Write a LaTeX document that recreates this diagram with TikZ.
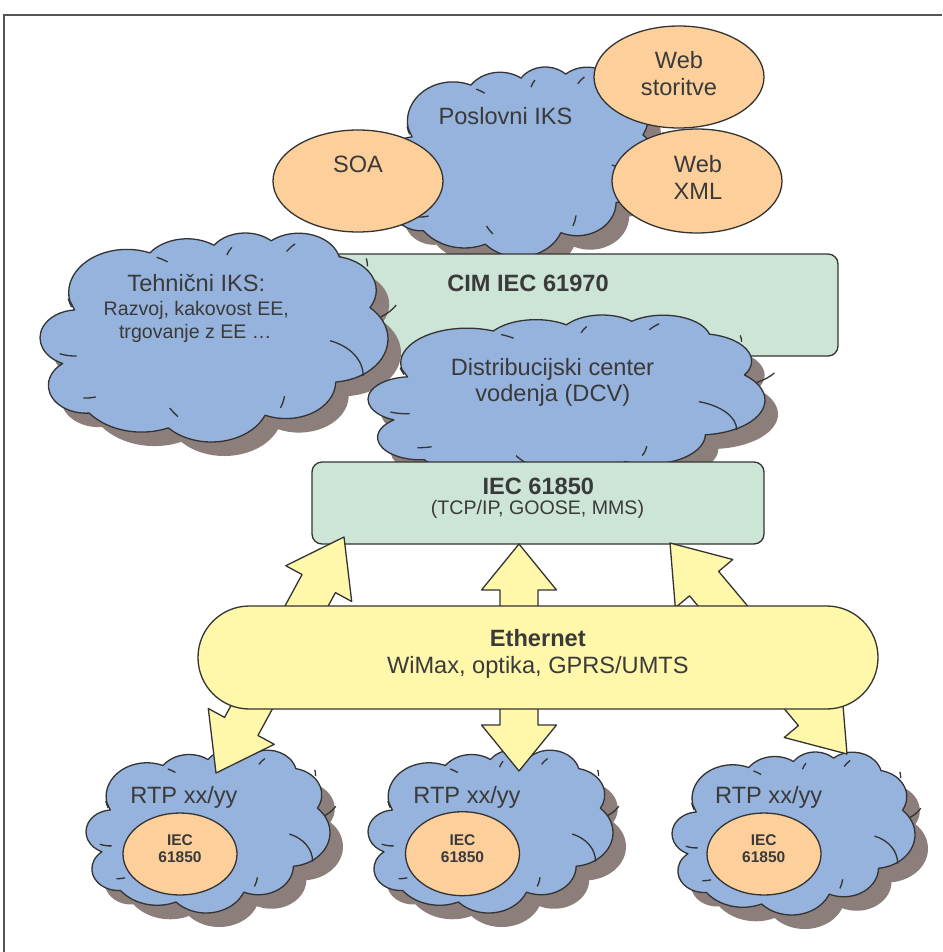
\documentclass[tikz,border=0pt]{standalone}
\usepackage{fontspec}
\setmainfont{Liberation Sans}
\usetikzlibrary{calc,shapes.geometric}

\definecolor{cloudblue}{RGB}{149,179,220}
\definecolor{shadowgray}{RGB}{140,127,123}
\definecolor{peach}{RGB}{253,207,155}
\definecolor{mint}{RGB}{204,229,214}
\definecolor{lemon}{RGB}{255,247,170}
\definecolor{ink}{RGB}{51,51,51}
\definecolor{textink}{RGB}{58,58,58}
\definecolor{framegray}{RGB}{85,85,85}

\tikzset{
  outline/.style={draw=ink, line width=1.3pt, line join=round},
  bubble/.style={ellipse, outline, fill=peach, inner sep=0pt},
  panel/.style={rectangle, outline, fill=mint, rounded corners=10pt, inner sep=0pt},
  blockarrow/.style={outline, fill=lemon},
  txt/.style={inner sep=0pt, anchor=base, text=textink, font=\fontsize{23.6}{28}\selectfont},
  subtxt/.style={txt, font=\fontsize{19.6}{24}\selectfont},
  tinytxt/.style={txt, font=\fontsize{15.5}{18}\selectfont\bfseries},
}

% Outline of a puffy cloud in a 432 x 432 unit box (y pointing down,
% angles negated because the arc radii are taken on the canvas axes)
\newcommand{\cloudbody}[1]{%
  \path[#1] (39.00,143.70)
    arc[start angle=190.4875, delta angle=-123.7805, x radius=67.53pt, y radius=91.90pt]
    arc[start angle=144.1024, delta angle=-89.9452,  x radius=53.33pt, y radius=72.67pt]
    arc[start angle=145.8079, delta angle=-99.7230,  x radius=43.65pt, y radius=59.45pt]
    arc[start angle=130.9861, delta angle=-117.2417, x radius=48.57pt, y radius=65.95pt]
    arc[start angle=78.7089,  delta angle=-109.0269, x radius=53.33pt, y radius=72.73pt]
    arc[start angle=46.2673,  delta angle=-130.2690, x radius=67.75pt, y radius=92.20pt]
    arc[start angle=-0.6250,  delta angle=-114.0333, x radius=57.85pt, y radius=78.67pt]
    arc[start angle=-22.4516, delta angle=-115.1726, x radius=67.52pt, y radius=92.15pt]
    arc[start angle=-66.2426, delta angle=-75.7110,  x radius=77.20pt, y radius=105.43pt]
    arc[start angle=274.9421, delta angle=-146.7356, x radius=43.60pt, y radius=59.18pt]
    arc[start angle=246.8285, delta angle=-152.5189, x radius=43.45pt, y radius=59.45pt]
    -- cycle;}

% Short inner strokes that separate the puffs
\newcommand{\cloudfolds}[1]{%
  \path[#1]
    (46.93,261.77) arc[start angle=-86.7420, delta angle=-26.4295, x radius=43.45pt, y radius=59.45pt]
    (69.28,348.99) arc[start angle=-73.6105, delta angle=-19.1381, x radius=43.60pt, y radius=59.18pt]
    (164.78,390.90) arc[start angle=-137.6242, delta angle=-14.0811, x radius=67.52pt, y radius=92.15pt]
    (288.27,347.51) arc[start angle=-6.4533, delta angle=-15.9984, x radius=67.52pt, y radius=92.15pt]
    (341.29,229.54) arc[start angle=70.2924, delta angle=-70.9174, x radius=57.85pt, y radius=78.67pt]
    (417.98,153.54) arc[start angle=-30.3180, delta angle=-27.7515, x radius=53.33pt, y radius=72.73pt]
    (383.24,54.26) arc[start angle=13.7443, delta angle=-14.8640, x radius=48.57pt, y radius=65.95pt]
    (290.78,39.52) arc[start angle=149.1815, delta angle=-18.1954, x radius=48.57pt, y radius=65.95pt]
    (221.41,47.20) arc[start angle=163.4943, delta angle=-17.6864, x radius=43.65pt, y radius=59.45pt]
    (140.00,51.92) arc[start angle=66.7070, delta angle=-12.3194, x radius=67.53pt, y radius=91.90pt]
    (41.27,157.89) arc[start angle=-157.6544, delta angle=-11.8582, x radius=67.53pt, y radius=91.90pt];}

% Cloud with drop shadow: left, top, width, height (in px)
\newcommand{\puffcloud}[4]{%
  \pgfmathsetmacro\cloudsx{#3/403.91}%
  \pgfmathsetmacro\cloudsy{#4/444.67}%
  \begin{scope}[shift={(#1+13,#2+14)}, xscale=\cloudsx, yscale=\cloudsy, shift={(-4.55,-0.22)}]
    \cloudbody{fill=shadowgray}
  \end{scope}
  \begin{scope}[shift={(#1,#2)}, xscale=\cloudsx, yscale=\cloudsy, shift={(-4.55,-0.22)}]
    \cloudbody{fill=cloudblue, outline}
    \cloudfolds{outline}
  \end{scope}}

% Double-headed block arrow between two tips; #3 = head length
\newcommand{\twowayarrow}[3]{%
  \path[blockarrow] (#1)
    -- ($(#1)!#3!(#2)!37.5pt!90:(#2)$)
    -- ($(#1)!#3!(#2)!19pt!90:(#2)$)
    -- ($(#2)!#3!(#1)!19pt!-90:(#1)$)
    -- ($(#2)!#3!(#1)!37.5pt!-90:(#1)$)
    -- (#2)
    -- ($(#2)!#3!(#1)!37.5pt!90:(#1)$)
    -- ($(#2)!#3!(#1)!19pt!90:(#1)$)
    -- ($(#1)!#3!(#2)!19pt!-90:(#2)$)
    -- ($(#1)!#3!(#2)!37.5pt!-90:(#2)$)
    -- cycle;}

\begin{document}
\begin{tikzpicture}[x=1pt, y=-1pt]
  \useasboundingbox (0,0) rectangle (942,952);
  \fill[white] (0,0) rectangle (942,952);

  % page frame
  \draw[framegray, line width=1.5pt] (4,952) -- (4,15) -- (942,15);

  % business IT layer
  \puffcloud{385}{67}{272}{190}
  \node[txt] (poslovni) at (505.5,125) {Poslovni IKS};
  \node[bubble, minimum width=170pt, minimum height=102pt] (soa) at (358,181) {};
  \node[txt] (soatxt) at (358,172.7) {SOA};
  \node[bubble, minimum width=170pt, minimum height=102pt] (websvc) at (679,77) {};
  \node[txt] (websvc1) at (679,69) {Web};
  \node[txt] (websvc2) at (679,96) {storitve};
  \node[bubble, minimum width=170pt, minimum height=104pt] (webxml) at (697,181) {};
  \node[txt] (webxml1) at (698,172) {Web};
  \node[txt] (webxml2) at (698,199) {XML};

  % CIM layer
  \node[panel, minimum width=620pt, minimum height=102pt] (cim) at (528,305) {};
  \puffcloud{40}{233}{348}{209}
  \node[txt] (teh1) at (196.3,291.7) {Tehnični IKS:};
  \node[subtxt] (teh2) at (196.3,315) {Razvoj, kakovost EE,};
  \node[subtxt] (teh3) at (195.3,338.3) {trgovanje z EE …};
  \node[txt, font=\fontsize{23.6}{28}\selectfont\bfseries] (cimtxt) at (528,291) {CIM IEC 61970};

  % control centre
  \puffcloud{368}{315}{397}{168}
  \node[txt] (dcv1) at (552.5,375) {Distribucijski center};
  \node[txt] (dcv2) at (552.8,401.7) {vodenja (DCV)};

  % IEC 61850 panel
  \node[panel, minimum width=452pt, minimum height=82pt] (iec) at (538,503) {};
  \node[txt, font=\fontsize{23.6}{28}\selectfont\bfseries] (iec1) at (538.3,494) {IEC 61850};
  \node[subtxt] (iec2) at (537.5,514) {(TCP/IP, GOOSE, MMS)};

  % remote terminal units
  \puffcloud{86}{750}{244}{163}
  \node[txt] (rtpa) at (184,803.3) {RTP xx/yy};
  \node[bubble, minimum width=114pt, minimum height=82pt] (rtpaiec) at (180,854) {};
  \node[tinytxt] (rtpa1) at (180,845) {IEC};
  \node[tinytxt] (rtpa2) at (180,862.7) {61850};

  \puffcloud{368}{750}{245}{163}
  \node[txt] (rtpb) at (467,803.3) {RTP xx/yy};
  \node[bubble, minimum width=114pt, minimum height=84pt] (rtpbiec) at (462.5,853.7) {};
  \node[tinytxt] (rtpb1) at (462.5,845) {IEC};
  \node[tinytxt] (rtpb2) at (462.5,862.7) {61850};

  \puffcloud{672}{752}{243}{163}
  \node[txt] (rtpc) at (768.7,803.3) {RTP xx/yy};
  \node[bubble, minimum width=114pt, minimum height=82pt] (rtpciec) at (764,854) {};
  \node[tinytxt] (rtpc1) at (763.7,845.7) {IEC};
  \node[tinytxt] (rtpc2) at (763.7,862.7) {61850};

  % links between the panel and the units
  \coordinate (la) at (344,537);
  \coordinate (lb) at (216,773);
  \coordinate (ma) at (519,544);
  \coordinate (mb) at (519,771);
  \coordinate (ra) at (670,543);
  \coordinate (rb) at (847,754);
  \twowayarrow{la}{lb}{53pt}
  \twowayarrow{ma}{mb}{46pt}
  \twowayarrow{ra}{rb}{53pt}

  % network bus
  \node[rectangle, outline, fill=lemon, rounded corners=51.4pt, inner sep=0pt,
        minimum width=680pt, minimum height=103pt] (eth) at (538,657.5) {};
  \node[txt, font=\fontsize{23.6}{28}\selectfont\bfseries] (eth1) at (537.8,646.7) {Ethernet};
  \node[txt] (eth2) at (537.8,673.5) {WiMax, optika, GPRS/UMTS};
\end{tikzpicture}
\end{document}
